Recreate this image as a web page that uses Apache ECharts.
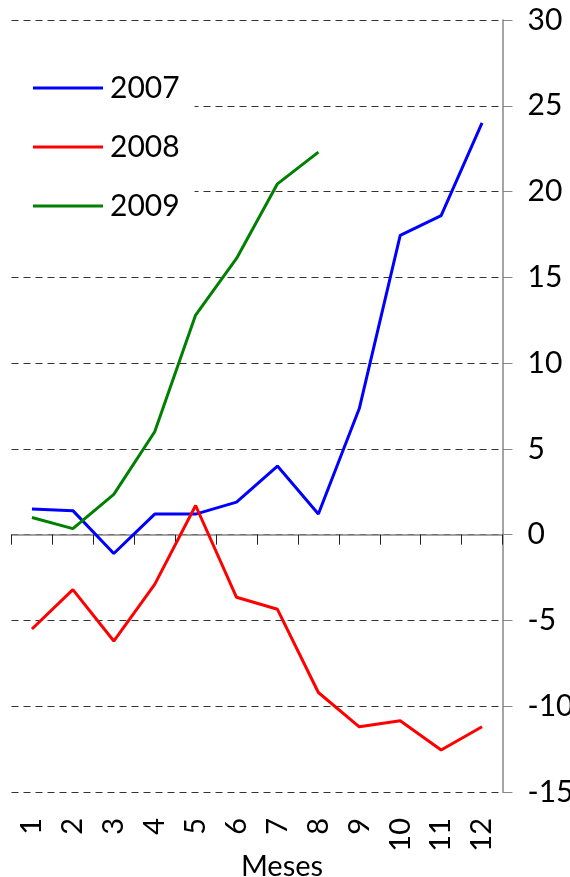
<!DOCTYPE html>
<html>
<head>
<meta charset="utf-8">
<script src="https://cdn.jsdelivr.net/npm/echarts@6/dist/echarts.min.js"></script>
<style>
  html, body { margin: 0; padding: 0; background: #fff; }
  #chart { width: 570px; height: 877px; }
</style>
</head>
<body>
<div id="chart"></div>
<script>
const meses = ['1', '2', '3', '4', '5', '6', '7', '8', '9', '10', '11', '12'];
const yTicks = [-15, -10, -5, 0, 5, 10, 15, 20, 25, 30];

const s2007 = [1.5, 1.4, -1.1, 1.2, 1.2, 1.9, 4.0, 1.2, 7.35, 17.45, 18.6, 24.0];
const s2008 = [-5.5, -3.2, -6.2, -2.9, 1.7, -3.65, -4.35, -9.2, -11.2, -10.85, -12.55, -11.2];
const s2009 = [1.0, 0.35, 2.35, 6.0, 12.8, 16.1, 20.45, 22.3];

const font = 'Lato, "Open Sans", sans-serif';
const chart = echarts.init(document.getElementById('chart'));

function lineSeries(name, data, color) {
  return {
    name: name,
    type: 'line',
    data: data,
    xAxisIndex: 0,
    symbol: 'none',
    z: 3,
    lineStyle: { width: 3, color: color },
    itemStyle: { color: color }
  };
}

const option = {
  animation: false,
  backgroundColor: '#fff',
  grid: { left: 11.5, right: 67.5, top: 20, bottom: 85, outerBoundsMode: 'none', containLabel: false },
  legend: {
    orient: 'vertical',
    left: 10,
    top: 36,
    padding: [37, 15, 14, 23],
    backgroundColor: '#fff',
    icon: 'rect',
    itemWidth: 70,
    itemHeight: 3,
    itemGap: 29,
    z: 10,
    textStyle: { fontFamily: font, fontSize: 30, lineHeight: 30, color: '#000', padding: [0, 0, 0, 2] },
    data: ['2007', '2008', '2009']
  },
  xAxis: [
    {
      type: 'category',
      data: meses,
      position: 'bottom',
      axisLine: { onZero: true, lineStyle: { color: '#868686', width: 1.5 } },
      axisTick: { show: true, length: 10, interval: 0, lineStyle: { color: '#222', width: 1 } },
      axisLabel: { show: false },
      splitLine: { show: false }
    },
    {
      type: 'category',
      data: meses,
      position: 'bottom',
      axisLine: { show: false, onZero: false },
      axisTick: { show: false },
      axisLabel: { interval: 0, rotate: 90, margin: 26, fontFamily: font, fontSize: 29, color: '#000' },
      name: 'Meses',
      nameLocation: 'middle',
      nameMoveOverlap: false,
      nameGap: 60,
      nameTextStyle: { fontFamily: font, fontSize: 29, lineHeight: 29, color: '#000', padding: [0, 0, 0, 50] }
    }
  ],
  yAxis: {
    type: 'value',
    position: 'right',
    min: yTicks[0],
    max: yTicks[yTicks.length - 1],
    interval: 5,
    axisLine: { show: true, onZero: false, lineStyle: { color: '#868686', width: 1.5 } },
    axisTick: { show: true, length: 10, lineStyle: { color: '#868686', width: 1 } },
    axisLabel: { margin: 25, fontFamily: font, fontSize: 30, color: '#000' },
    splitLine: { show: true, lineStyle: { color: '#333', width: 1, type: [7, 5] } }
  },
  series: [
    lineSeries('2007', s2007, '#0000ff'),
    lineSeries('2008', s2008, '#ff0000'),
    lineSeries('2009', s2009, '#008000')
  ]
};

chart.setOption(option);
</script>
</body>
</html>
